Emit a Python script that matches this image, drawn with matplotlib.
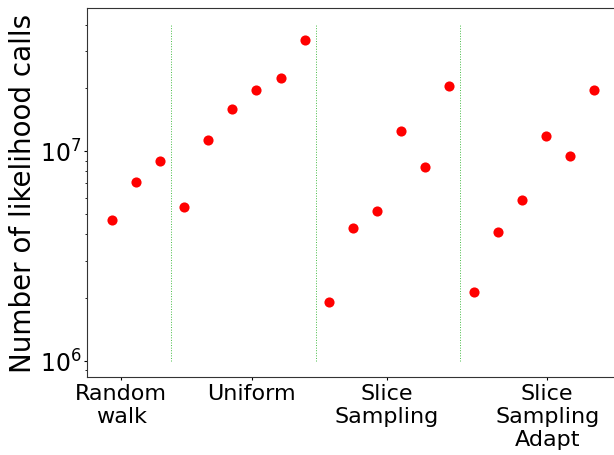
import numpy as np
import matplotlib
matplotlib.use('Agg')
import matplotlib.pyplot as plt

methods = ['Random\nwalk', 'Uniform', 'Slice\nSampling', 'Slice\nSampling\nAdapt']
calls_random_walk = [4.71e6, 7.10e6, 8.93e6]
calls_uniform = [5.41e6, 1.13e7, 1.58e7, 1.945e7, 2.24e7, 3.40e7]
calls_slice = [1.91e6, 4.30e6, 5.18e6, 1.24e7, 8.43e6, 2.04e7]
calls_slice_adapt = [2.12e6, 4.11e6, 5.81e6, 1.18e7, 9.47e6, 1.96e7]

groups = [calls_random_walk, calls_uniform, calls_slice, calls_slice_adapt]
calls = np.concatenate(groups)
x = np.arange(len(calls))

# group boundaries and label positions
sizes = np.array([len(g) for g in groups])
bounds = np.cumsum(sizes)[:-1] - 0.55
tick_pos = [0.4, 5.8, 11.4, 18.05]

fig = plt.figure(figsize=(6.14, 4.56), dpi=100)
ax = fig.add_axes([0.1417, 0.171, 0.8655, 0.809])

ax.plot(x, calls, 'o', color='red', markersize=7.3, markeredgewidth=0)
ax.vlines(bounds, 1e6, 4e7, colors='#44bb44', linestyles=':', linewidth=0.7)

ax.set_yscale('log')
ax.set_ylim(8.36e5, 4.8e7)
ax.set_xlim(-1.02, 21)
ax.set_xticks(tick_pos)
ax.set_xticklabels(methods, fontsize=16)
ax.tick_params(axis='both', which='major', length=2, pad=2)
ax.tick_params(axis='both', which='minor', length=1.5)
ax.tick_params(axis='y', labelsize=17)
for s in ax.spines.values():
    s.set_color('#333333')
ax.set_ylabel('Number of likelihood calls', fontsize=20, labelpad=2)

plt.savefig('out.png', dpi=100)
